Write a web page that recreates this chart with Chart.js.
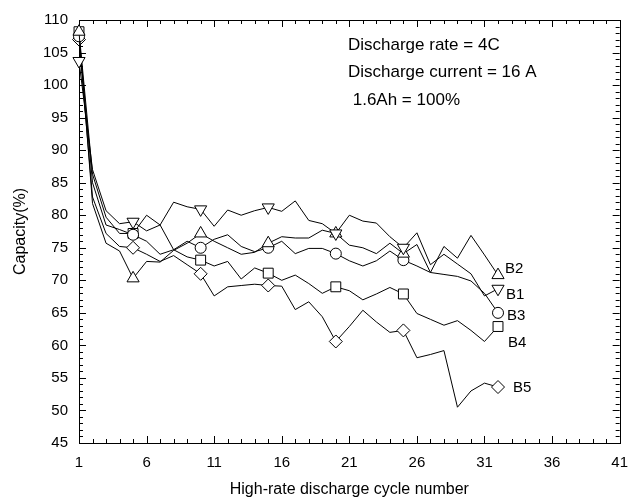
<!DOCTYPE html>
<html>
<head>
<meta charset="utf-8">
<script src="https://cdn.jsdelivr.net/npm/chart.js@4/dist/chart.umd.min.js"></script>
<style>
  html, body { margin: 0; padding: 0; background: #fff; }
  #wrap { width: 639px; height: 502px; }
</style>
</head>
<body>
<div id="wrap"><canvas id="chart" width="639" height="502"></canvas></div>
<script>
// cycle numbers and capacity (%)
const cycles = [1, 2, 3, 4, 5, 6, 7, 8, 9, 10, 11, 12, 13, 14, 15, 16,
                17, 18, 19, 20, 21, 22, 23, 24, 25, 26, 27, 28, 29, 30, 31, 32];
const b1 = [103.7, 87.0, 80.7, 78.7, 79.0, 77.6, 78.5, 82.0, 81.3, 80.9,
            78.3, 80.8, 80.0, 80.7, 81.2, 80.6, 82.2, 79.2, 78.7, 77.2,
            80.0, 79.1, 78.8, 76.7, 75.0, 77.3, 72.4, 74.0, 72.5, 71.0, 67.6, 68.7];
const b2 = [108.2, 81.8, 75.7, 74.5, 70.3, 72.9, 72.8, 74.6, 75.7, 77.2,
            76.0, 75.0, 74.0, 74.3, 75.7, 76.7, 76.5, 76.5, 77.7, 77.2,
            75.4, 75.0, 74.1, 75.7, 74.1, 75.5, 71.2, 75.2, 73.4, 76.9, 73.9, 70.8];
const b3 = [107.5, 85.0, 78.5, 77.8, 77.0, 76.0, 74.0, 74.7, 76.0, 75.0,
            76.3, 77.0, 75.2, 74.4, 75.0, 76.0, 74.1, 74.9, 74.9, 74.1,
            73.0, 72.2, 73.0, 74.5, 73.1, 72.2, 71.2, 70.9, 70.6, 69.9, 68.0, 65.0];
const b4 = [108.2, 86.3, 79.7, 77.2, 77.2, 80.0, 78.5, 74.7, 73.6, 73.1,
            72.2, 72.9, 70.2, 71.9, 71.1, 70.0, 70.8, 69.5, 68.0, 69.0,
            68.4, 67.0, 67.9, 68.9, 67.9, 64.9, 64.0, 63.1, 63.8, 62.3, 60.6, 62.9];
const b5 = [107.0, 82.8, 77.2, 75.2, 75.0, 74.0, 72.9, 73.8, 72.4, 71.0,
            67.6, 69.0, 69.2, 69.4, 69.2, 69.1, 65.5, 66.7, 64.4, 60.6,
            62.9, 65.4, 63.6, 62.0, 62.3, 58.1, 58.6, 59.2, 50.5, 53.0, 54.2, 53.6];
const markerCycles = [1, 5, 10, 15, 20, 25, 32];
const xTicks = [1, 6, 11, 16, 21, 26, 31, 36, 41];
const notes = ['Discharge rate = 4C', 'Discharge current = 16 A', ' 1.6Ah = 100%'];

const FONT = "'Liberation Sans', Arial, sans-serif";

function series(label, values, style, radius, rotation, lbl) {
  return {
    label: label,
    data: cycles.map((c, i) => ({ x: c, y: values[i] })),
    borderColor: '#000',
    borderWidth: 1,
    backgroundColor: '#fff',
    pointStyle: style,
    pointRotation: rotation,
    pointBorderWidth: 1,
    pointBorderColor: '#000',
    pointBackgroundColor: '#fff',
    pointRadius: ctx => markerCycles.includes(ctx.raw.x) ? radius : 0,
    pointHoverRadius: 0,
    tension: 0,
    clip: false,
    lbl: lbl
  };
}

// draws frame, inward ticks, axis titles, end labels and notes
const decor = {
  id: 'decor',
  beforeDatasetsDraw(chart) {
    const ctx = chart.ctx;
    const a = chart.chartArea;
    const xs = chart.scales.x, ys = chart.scales.y;
    ctx.save();
    ctx.strokeStyle = '#000';
    ctx.lineWidth = 1;
    ctx.strokeRect(Math.round(a.left) + 0.5, Math.round(a.top) + 0.5,
                   Math.round(a.right - a.left), Math.round(a.bottom - a.top));
    ctx.beginPath();
    for (let v = 1; v <= 41; v++) {
      const x = Math.round(xs.getPixelForValue(v)) + 0.5;
      const len = (v - 1) % 5 === 0 ? 7 : 4;
      ctx.moveTo(x, a.bottom); ctx.lineTo(x, a.bottom - len);
      ctx.moveTo(x, a.top); ctx.lineTo(x, a.top + len);
    }
    for (let v = 45; v <= 110; v++) {
      const y = Math.round(ys.getPixelForValue(v)) + 0.5;
      const len = v % 5 === 0 ? 7 : 4;
      ctx.moveTo(a.left, y); ctx.lineTo(a.left + len, y);
      ctx.moveTo(a.right, y); ctx.lineTo(a.right - len, y);
    }
    ctx.stroke();
    ctx.restore();
  },
  afterDraw(chart) {
    const ctx = chart.ctx;
    const a = chart.chartArea;
    const xs = chart.scales.x, ys = chart.scales.y;
    ctx.save();
    ctx.fillStyle = '#000';
    ctx.font = '16px ' + FONT;
    ctx.textAlign = 'center';
    ctx.textBaseline = 'middle';
    ctx.fillText('High-rate discharge cycle number', (a.left + a.right) / 2, 490);
    ctx.save();
    ctx.translate(21, (a.top + a.bottom) / 2);
    ctx.rotate(-Math.PI / 2);
    ctx.fillText('Capacity(%)', 0, 0);
    ctx.restore();

    ctx.textAlign = 'left';
    ctx.font = '17px ' + FONT;
    notes.forEach((t, i) => ctx.fillText(t, 348, 45 + i * 27.5));

    ctx.font = '15px ' + FONT;
    chart.data.datasets.forEach(ds => {
      const last = ds.data[ds.data.length - 1];
      const x = xs.getPixelForValue(last.x) + ds.lbl.dx;
      const y = ys.getPixelForValue(last.y) + ds.lbl.dy;
      ctx.fillText(ds.label, x, y);
    });
    ctx.restore();
  }
};

new Chart(document.getElementById('chart'), {
  type: 'line',
  data: {
    datasets: [
      series('B1', b1, 'triangle', 7, 180, { dx: 8, dy: 6 }),
      series('B2', b2, 'triangle', 7, 0, { dx: 7, dy: -6 }),
      series('B3', b3, 'circle', 5.5, 0, { dx: 9, dy: 3 }),
      series('B4', b4, 'rect', 7, 0, { dx: 10, dy: 16 }),
      series('B5', b5, 'rectRot', 6.5, 0, { dx: 15, dy: 1 })
    ]
  },
  options: {
    responsive: false,
    animation: false,
    devicePixelRatio: 1,
    layout: { padding: { left: 0, right: 19, top: 13, bottom: 0 } },
    plugins: { legend: { display: false }, tooltip: { enabled: false } },
    scales: {
      x: {
        type: 'linear',
        min: 1,
        max: 41,
        afterBuildTicks: s => { s.ticks = xTicks.map(v => ({ value: v })); },
        afterFit: s => { s.height = 59; },
        grid: { display: false, drawTicks: false },
        border: { display: false },
        ticks: { color: '#000', padding: 11, maxRotation: 0, autoSkip: false,
                 font: { family: FONT, size: 15 } }
      },
      y: {
        min: 45,
        max: 110,
        afterFit: s => { s.width = 79; },
        grid: { display: false, drawTicks: false },
        border: { display: false },
        ticks: { color: '#000', stepSize: 5, padding: 11,
                 font: { family: FONT, size: 15 } }
      }
    }
  },
  plugins: [decor]
});
</script>
</body>
</html>
